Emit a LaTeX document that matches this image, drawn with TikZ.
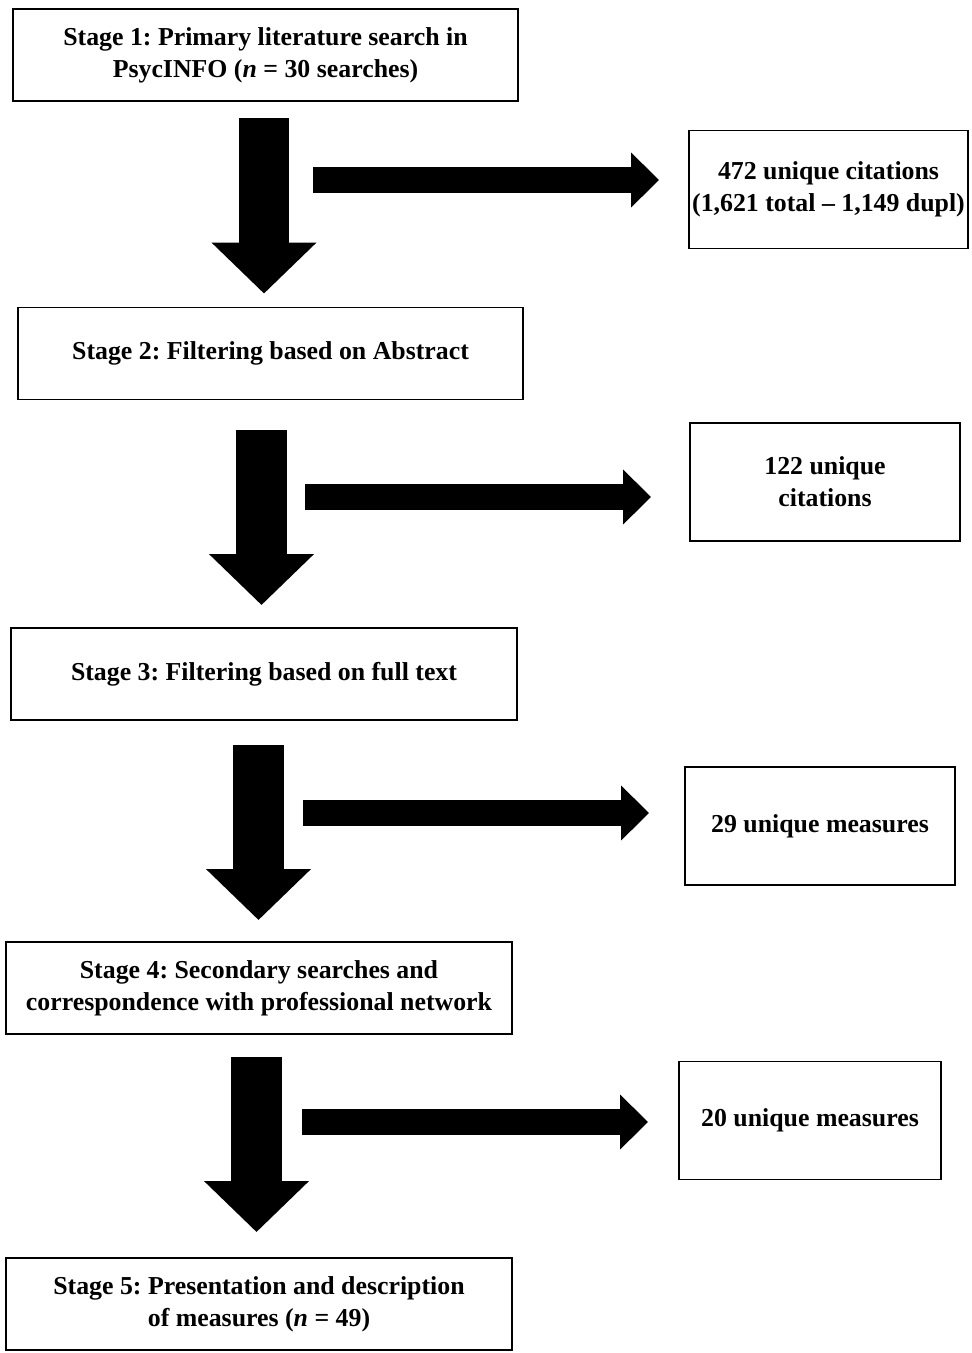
\documentclass[tikz,border=0pt]{standalone}
\usepackage{fontspec}
\setmainfont{Liberation Serif}
\usepackage{tikz}
\usetikzlibrary{arrows.meta}
\usetikzlibrary{calc}

\tikzset{
	stagebox/.style = {draw, line width = 1.1pt, minimum width = 10.12cm, minimum height = 1.84cm, align = center, inner sep = 0pt},
	countbox/.style = {draw, line width = 1.1pt, minimum height = 2.36cm, align = center, inner sep = 0pt},
	downarrow/.style = {line width = 1.02cm, -{Triangle[length = 0pt 1 0, width = 0pt 2 0]}},
	sidearrow/.style = {line width = 0.53cm, -{Triangle[length = 0pt 1.05 0, width = 0pt 2 0]}}
}

\begin{document}
\frenchspacing
\begin{tikzpicture}[x = 0.02cm, y = -0.02cm, font = \bfseries\fontsize{14.7}{18.2}\selectfont]
		\useasboundingbox (0,0) rectangle (971,1353);
		\node[stagebox] (s1) at (265.5,55) {Stage 1: Primary literature search in\\PsycINFO (\textit{n} = 30 searches)};
		\node[stagebox] (s2) at (270.5,353.5) {Stage 2: Filtering based on Abstract};
		\node[stagebox] (s3) at (264,674) {Stage 3: Filtering based on full text};
		\node[stagebox] (s4) at (259,988) {Stage 4: Secondary searches and\\correspondence with professional network};
		\node[stagebox] (s5) at (259,1304) {Stage 5: Presentation and description\\of measures (\textit{n} = 49)};
		\node[countbox, minimum width = 5.58cm] (r1) at (828.5,189.5) {472 unique citations\\(1,621 total -- 1,149 dupl)};
		\node[countbox, minimum width = 5.4cm] (r2) at (825,482) {122 unique\\citations};
		\node[countbox, minimum width = 5.4cm] (r3) at (820,826) {29 unique measures};
		\node[countbox, minimum width = 5.24cm] (r4) at (810,1120.5) {20 unique measures};
		\coordinate (d1) at (264,118);
		\coordinate (d2) at (261.5,430);
		\coordinate (d3) at (258.5,745);
		\coordinate (d4) at (256.5,1057);
		\draw[downarrow] (d1) -- ($(d1 |- s2.north) + (0,-13)$);
		\draw[downarrow] (d2) -- ($(d2 |- s3.north) + (0,-22)$);
		\draw[downarrow] (d3) -- ($(d3 |- s4.north) + (0,-21)$);
		\draw[downarrow] (d4) -- ($(d4 |- s5.north) + (0,-25)$);
		\coordinate (a1) at (313,180);
		\coordinate (a2) at (305,497);
		\coordinate (a3) at (303,813);
		\coordinate (a4) at (302,1122);
		\draw[sidearrow] (a1) -- ($(a1 -| r1.west) + (-29,0)$);
		\draw[sidearrow] (a2) -- ($(a2 -| r2.west) + (-38,0)$);
		\draw[sidearrow] (a3) -- ($(a3 -| r3.west) + (-35,0)$);
		\draw[sidearrow] (a4) -- ($(a4 -| r4.west) + (-30,0)$);
	\end{tikzpicture}
\end{document}
